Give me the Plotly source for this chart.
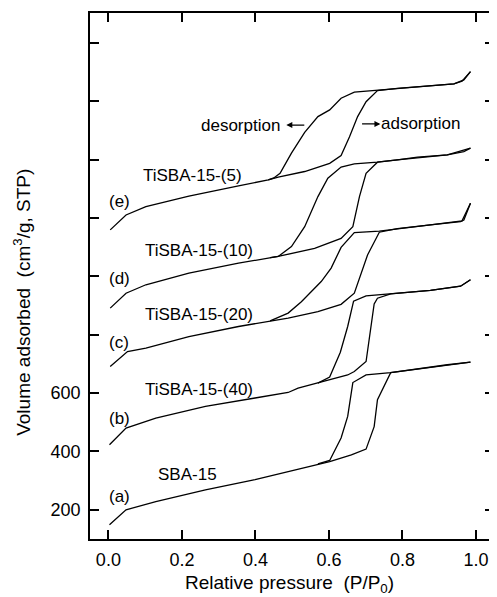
import plotly.graph_objects as go

# ---------------- data ----------------
# relative pressure P/P0 and volume adsorbed (cm3/g, STP), adsorption / desorption branches
sba15_ads_p = [0.003, 0.048, 0.129, 0.264, 0.399, 0.489, 0.516, 0.602, 0.661, 0.701, 0.723, 0.732, 0.768, 0.922, 0.985]
sba15_ads_v = [149, 200, 228, 268, 303, 331, 337, 365, 388, 408, 485, 577, 670, 697, 706]
sba15_des_p = [0.985, 0.922, 0.768, 0.701, 0.665, 0.651, 0.633, 0.602, 0.570]
sba15_des_v = [706, 697, 670, 662, 636, 520, 446, 369, 357]

ti40_ads_p = [0.003, 0.048, 0.129, 0.264, 0.399, 0.489, 0.516, 0.651, 0.669, 0.701, 0.723, 0.732, 0.768, 0.876, 0.958, 0.985]
ti40_ads_v = [423, 480, 514, 554, 583, 602, 617, 662, 674, 708, 905, 925, 940, 952, 966, 988]
ti40_des_p = [0.985, 0.958, 0.876, 0.768, 0.701, 0.667, 0.651, 0.631, 0.602, 0.570]
ti40_des_v = [988, 966, 952, 940, 933, 915, 828, 740, 655, 634]

ti20_ads_p = [0.005, 0.052, 0.102, 0.219, 0.354, 0.453, 0.489, 0.570, 0.633, 0.669, 0.705, 0.737, 0.786, 0.876, 0.958, 0.967, 0.985]
ti20_ads_v = [691, 742, 754, 793, 828, 851, 857, 879, 904, 942, 1073, 1151, 1163, 1176, 1187, 1193, 1250]
ti20_des_p = [0.985, 0.962, 0.876, 0.786, 0.737, 0.669, 0.633, 0.606, 0.579, 0.525, 0.489, 0.44]
ti20_des_v = [1250, 1190, 1176, 1163, 1155, 1150, 1099, 1028, 982, 913, 874, 847]

ti10_ads_p = [0.005, 0.048, 0.102, 0.219, 0.354, 0.462, 0.561, 0.633, 0.665, 0.683, 0.701, 0.732, 0.786, 0.841, 0.922, 0.967, 0.985]
ti10_ads_v = [891, 942, 971, 1011, 1045, 1068, 1096, 1130, 1170, 1273, 1353, 1391, 1399, 1408, 1416, 1427, 1439]
ti10_des_p = [0.985, 0.922, 0.786, 0.732, 0.669, 0.633, 0.597, 0.570, 0.534, 0.498, 0.462, 0.44]
ti10_des_v = [1439, 1416, 1399, 1391, 1385, 1374, 1336, 1273, 1170, 1102, 1068, 1064]

ti5_ads_p = [0.005, 0.048, 0.102, 0.219, 0.354, 0.435, 0.462, 0.534, 0.602, 0.633, 0.656, 0.678, 0.701, 0.732, 0.786, 0.876, 0.940, 0.967, 0.985]
ti5_ads_v = [1159, 1210, 1239, 1275, 1310, 1330, 1340, 1359, 1387, 1414, 1478, 1547, 1598, 1636, 1644, 1652, 1659, 1673, 1701]
ti5_des_p = [0.985, 0.962, 0.940, 0.876, 0.786, 0.732, 0.669, 0.633, 0.602, 0.570, 0.534, 0.498, 0.467, 0.45, 0.435]
ti5_des_v = [1701, 1668, 1659, 1652, 1644, 1636, 1631, 1610, 1570, 1547, 1493, 1422, 1353, 1337, 1330]

sample_names = ["SBA-15", "TiSBA-15-(40)", "TiSBA-15-(20)", "TiSBA-15-(10)", "TiSBA-15-(5)"]
curve_letters = ["(a)", "(b)", "(c)", "(d)", "(e)"]
name_pos_p = [0.216, 0.246, 0.246, 0.246, 0.23]
name_pos_v = [320, 613, 868, 1090, 1347]
letter_pos_p = [0.03, 0.03, 0.03, 0.03, 0.03]
letter_pos_v = [246, 514, 773, 993, 1256]

x_tickvals = [0.0, 0.2, 0.4, 0.6, 0.8, 1.0]
x_ticktext = ["0.0", "0.2", "0.4", "0.6", "0.8", "1.0"]
y_tickvals = [200, 400, 600, 800, 1000, 1200, 1400, 1600, 1800]
y_ticktext = ["200", "400", "600", "", "", "", "", "", ""]

# ---------------- figure ----------------
FONT = "Liberation Sans, Arial, Helvetica, sans-serif"
fig = go.Figure()

branches = [
    (sba15_ads_p, sba15_ads_v), (sba15_des_p, sba15_des_v),
    (ti40_ads_p, ti40_ads_v), (ti40_des_p, ti40_des_v),
    (ti20_ads_p, ti20_ads_v), (ti20_des_p, ti20_des_v),
    (ti10_ads_p, ti10_ads_v), (ti10_des_p, ti10_des_v),
    (ti5_ads_p, ti5_ads_v), (ti5_des_p, ti5_des_v),
]
for px, vy in branches:
    fig.add_trace(go.Scatter(x=px, y=vy, mode="lines",
                             line=dict(color="black", width=1.3),
                             showlegend=False, hoverinfo="skip"))

annotations = []
for name, nx, ny in zip(sample_names, name_pos_p, name_pos_v):
    annotations.append(dict(x=nx, y=ny, xref="x", yref="y", text=name, showarrow=False,
                            font=dict(family=FONT, size=17, color="black"),
                            xanchor="center", yanchor="middle"))
for lt, lx, ly in zip(curve_letters, letter_pos_p, letter_pos_v):
    annotations.append(dict(x=lx, y=ly, xref="x", yref="y", text=lt, showarrow=False,
                            font=dict(family=FONT, size=17, color="black"),
                            xanchor="center", yanchor="middle"))

# desorption / adsorption labels with arrows
annotations.append(dict(x=0.36, y=1518, xref="x", yref="y", text="desorption", showarrow=False,
                        font=dict(family=FONT, size=17, color="black"),
                        xanchor="center", yanchor="middle"))
annotations.append(dict(x=0.484, y=1518, ax=0.537, ay=1518, xref="x", yref="y",
                        axref="x", ayref="y", text="", showarrow=True,
                        arrowhead=2, arrowsize=1, arrowwidth=1.2, arrowcolor="black"))
annotations.append(dict(x=0.85, y=1522, xref="x", yref="y", text="adsorption", showarrow=False,
                        font=dict(family=FONT, size=17, color="black"),
                        xanchor="center", yanchor="middle"))
annotations.append(dict(x=0.740, y=1522, ax=0.686, ay=1522, xref="x", yref="y",
                        axref="x", ayref="y", text="", showarrow=True,
                        arrowhead=2, arrowsize=1, arrowwidth=1.2, arrowcolor="black"))

# axis titles
annotations.append(dict(x=0.493, y=-0.086, xref="paper", yref="paper",
                        text="Relative pressure  (P/P<sub>0</sub>)", showarrow=False,
                        font=dict(family=FONT, size=19, color="black"),
                        xanchor="center", yanchor="middle"))
annotations.append(dict(x=-0.167, y=0.45, xref="paper", yref="paper", textangle=-90,
                        text="Volume adsorbed  (cm<sup>3</sup>/g, STP)", showarrow=False,
                        font=dict(family=FONT, size=19, color="black"),
                        xanchor="center", yanchor="middle"))

axis_common = dict(showgrid=False, zeroline=False, showline=True, linecolor="black",
                   linewidth=1.6, mirror="ticks", ticks="inside", ticklen=9,
                   tickwidth=1.5, tickcolor="black", ticklabelstandoff=4,
                   tickfont=dict(family=FONT, size=18, color="black"))

# the page body adds an 8 px offset; the figure is sized so the plot area lands
# at x 90..496, y 13..539 of the 497x597 window
fig.update_layout(
    width=489, height=589,
    margin=dict(l=82, r=1, t=5, b=58),
    paper_bgcolor="white", plot_bgcolor="white",
    xaxis=dict(range=[-0.05, 1.049], tickvals=x_tickvals, ticktext=x_ticktext, **axis_common),
    yaxis=dict(range=[100, 1902], tickvals=y_tickvals, ticktext=y_ticktext, **axis_common),
    annotations=annotations,
    showlegend=False,
)

fig.write_html("out.html")
